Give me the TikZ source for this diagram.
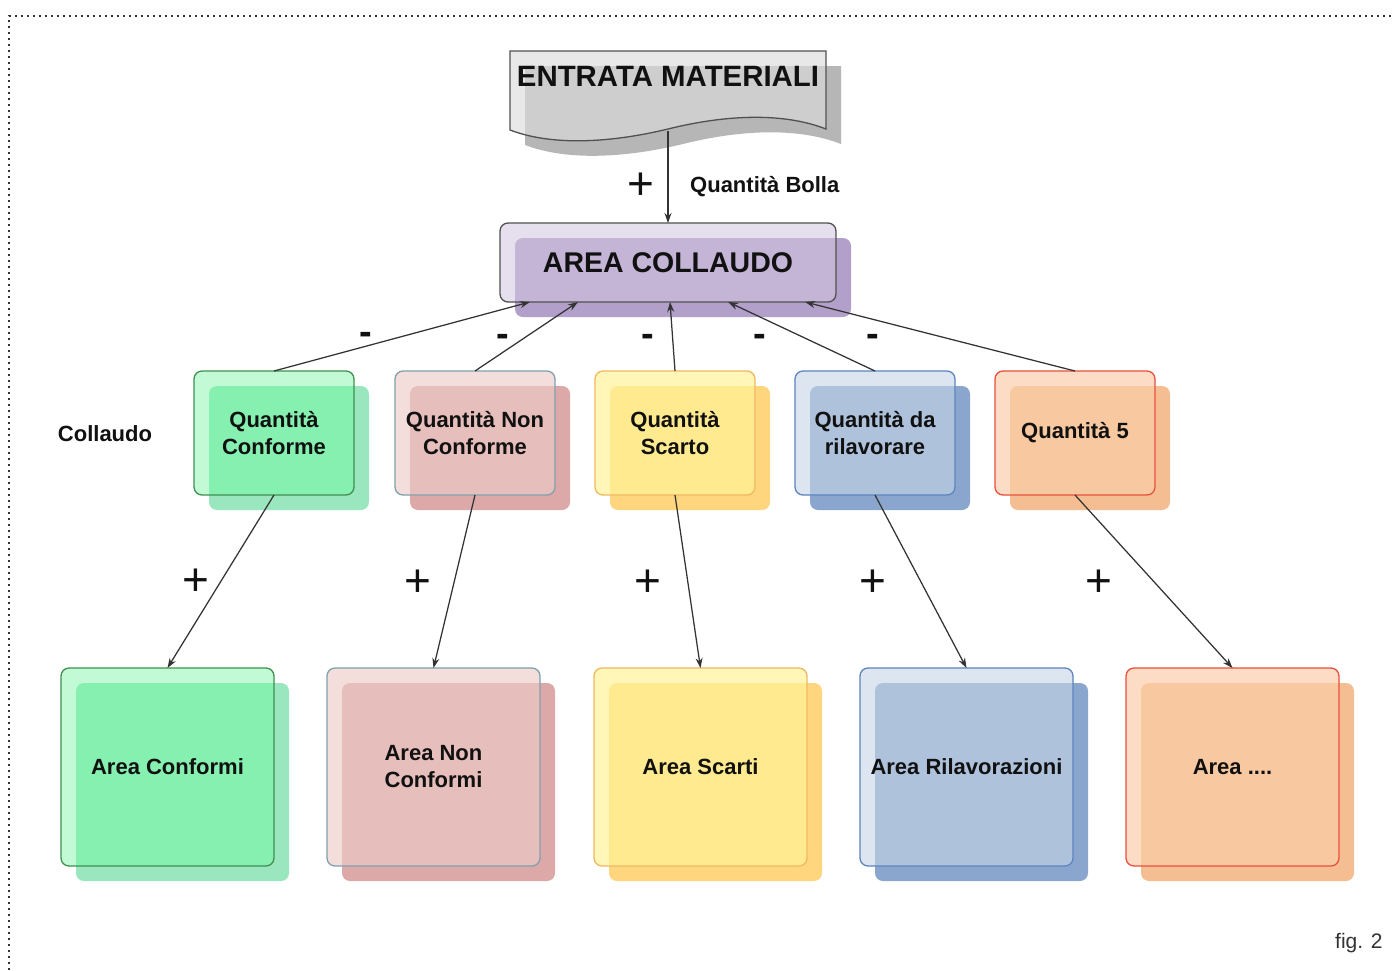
\documentclass[tikz,border=0pt]{standalone}
\usepackage{fontspec}
\setmainfont{Liberation Sans}
\usetikzlibrary{arrows.meta,calc}
% colour sets: F front only, O overlap, S shadow only, B border
\definecolor{gF}{HTML}{C2FAD6}\definecolor{gO}{HTML}{86F0B0}\definecolor{gS}{HTML}{9AE6BE}\definecolor{gB}{HTML}{3F8F50}
\definecolor{pF}{HTML}{F4DEDC}\definecolor{pO}{HTML}{E6BEBC}\definecolor{pS}{HTML}{DCA8A8}\definecolor{pB}{HTML}{7FA0AE}
\definecolor{yF}{HTML}{FFF6B8}\definecolor{yO}{HTML}{FFEA90}\definecolor{yS}{HTML}{FFD57E}\definecolor{yB}{HTML}{F0B860}
\definecolor{bF}{HTML}{DCE5F0}\definecolor{bO}{HTML}{AEC2DC}\definecolor{bS}{HTML}{8BA6CE}\definecolor{bB}{HTML}{5C84BE}
\definecolor{oF}{HTML}{FCDCC4}\definecolor{oO}{HTML}{F8C8A0}\definecolor{oS}{HTML}{F5BE92}\definecolor{oB}{HTML}{E8503C}
\definecolor{vF}{HTML}{E6E0EE}\definecolor{vO}{HTML}{C4B4D6}\definecolor{vS}{HTML}{B29FCA}\definecolor{vB}{HTML}{505050}
\definecolor{dF}{HTML}{E8E8E8}\definecolor{dO}{HTML}{CECECE}\definecolor{dS}{HTML}{B6B6B6}\definecolor{dB}{HTML}{505050}
\definecolor{ink}{HTML}{111111}
\definecolor{arrc}{HTML}{333333}
\newcommand\DocPath{(510,51) -- (826,51) -- (826,129) .. controls (780,111) and (720,116) .. (668,129) .. controls (610,143) and (552,146) .. (510,130) -- cycle}
\newcommand\colbox[7]{%
  \fill[#6S, rounded corners=8] (#2+15,#3+15) rectangle (#4+15,#5+15);
  \fill[#6F, rounded corners=8] (#2,#3) rectangle (#4,#5);
  \begin{scope}
    \clip[rounded corners=8] (#2+15,#3+15) rectangle (#4+15,#5+15);
    \fill[#6O, rounded corners=8] (#2,#3) rectangle (#4,#5);
  \end{scope}
  \node[boxnode, draw=#6B, minimum width=#4-#2, minimum height=#5-#3] (#1) at ({(#2+#4)/2},{(#3+#5)/2}) {#7};
}
\begin{document}
\begin{tikzpicture}[x=1pt,y=-1pt,
  boxnode/.style={rectangle, rounded corners=8pt, line width=1.3pt, inner sep=0pt, outer sep=0pt,
    align=center, text=ink, font=\fontsize{22}{27}\selectfont\bfseries},
  arr/.style={draw=arrc, line width=1.25pt, -{Stealth[length=10pt,width=7pt]}},
  lbl/.style={text=ink, font=\fontsize{22}{27}\selectfont\bfseries, inner sep=0pt},
  plus/.style={text=ink, font=\fontsize{46}{46}\selectfont, inner sep=0pt},
  minus/.style={text=ink, font=\fontsize{38}{38}\selectfont\bfseries, inner sep=0pt}]
\useasboundingbox (0,0) rectangle (1395,970);
\fill[white] (0,0) rectangle (1395,970);
% dotted frame
\draw[arrc, line width=2pt, dash pattern=on 2pt off 4pt] (9,970) -- (9,16) -- (1395,16);
% document shape
\fill[dS, shift={(15,15)}] \DocPath;
\fill[dF] \DocPath;
\begin{scope}
  \clip[shift={(15,15)}] \DocPath;
  \fill[dO] \DocPath;
\end{scope}
\draw[dB, line width=1.3pt] \DocPath;
\node[text=ink, font=\fontsize{29.4}{30}\selectfont\bfseries, inner sep=0pt, anchor=base] (em) at (668,86) {ENTRATA MATERIALI};
\coordinate (docb) at (668,131);
% boxes
\colbox{ac}{500}{223}{836}{302}{v}{\fontsize{28.5}{30}\selectfont\bfseries AREA COLLAUDO}
\colbox{q1}{194}{371}{354}{495}{g}{Quantità\\Conforme}
\colbox{q2}{395}{371}{555}{495}{p}{Quantità Non\\Conforme}
\colbox{q3}{595}{371}{755}{495}{y}{Quantità\\Scarto}
\colbox{q4}{795}{371}{955}{495}{b}{Quantità da\\rilavorare}
\colbox{q5}{995}{371}{1155}{495}{o}{Quantità 5}
\colbox{a1}{61}{668}{274}{866}{g}{Area Conformi}
\colbox{a2}{327}{668}{540}{866}{p}{Area Non\\Conformi}
\colbox{a3}{594}{668}{807}{866}{y}{Area Scarti}
\colbox{a4}{860}{668}{1073}{866}{b}{Area Rilavorazioni}
\colbox{a5}{1126}{668}{1339}{866}{o}{Area ....}
% connectors
\draw[arr] (docb) -- (ac.north);
\node[plus] (p0) at (641,186) {+};
\node[lbl, anchor=west] (qb) at (690,187) {Quantità Bolla};
\draw[arr] (q1.north) -- ($(ac.south west)!0.089!(ac.south east)$);
\draw[arr] (q2.north) -- ($(ac.south west)!0.232!(ac.south east)$);
\draw[arr] (q3.north) -- ($(ac.south west)!0.506!(ac.south east)$);
\draw[arr] (q4.north) -- ($(ac.south west)!0.679!(ac.south east)$);
\draw[arr] (q5.north) -- ($(ac.south west)!0.908!(ac.south east)$);
\node[minus] (m1) at (366,338) {-};
\node[minus] (m2) at (503,340) {-};
\node[minus] (m3) at (648,340) {-};
\node[minus] (m4) at (760,340) {-};
\node[minus] (m5) at (873,340) {-};
\draw[arr] (q1.south) -- (a1.north);
\draw[arr] (q2.south) -- (a2.north);
\draw[arr] (q3.south) -- (a3.north);
\draw[arr] (q4.south) -- (a4.north);
\draw[arr] (q5.south) -- (a5.north);
\node[plus] (p1) at (196,582) {+};
\node[plus] (p2) at (418,583) {+};
\node[plus] (p3) at (648,583) {+};
\node[plus] (p4) at (873,583) {+};
\node[plus] (p5) at (1099,583) {+};
\node[lbl] (coll) at (105,434) {Collaudo};
\node[text=arrc, font=\fontsize{21}{24}\selectfont, inner sep=0pt, anchor=base west] (fig) at (1335,948) {fig. 2};
\end{tikzpicture}
\end{document}
